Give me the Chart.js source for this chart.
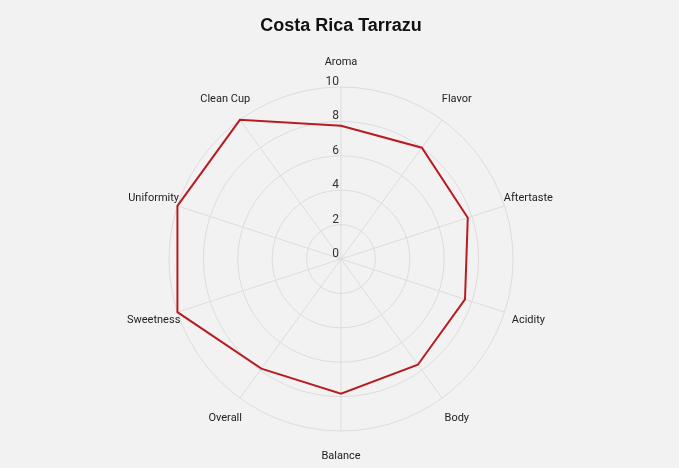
<!DOCTYPE html>
<html>
<head>
<meta charset="utf-8">
<script src="https://cdn.jsdelivr.net/npm/chart.js@4/dist/chart.umd.min.js"></script>
<style>
  html, body { margin: 0; padding: 0; background: #f2f2f2; }
  #wrap { width: 679px; height: 468px; position: relative; }
</style>
</head>
<body>
<div id="wrap"><canvas id="radar"></canvas></div>
<script>
// --- data ---
const categories = ['Aroma', 'Flavor', 'Aftertaste', 'Acidity', 'Body', 'Balance', 'Overall', 'Sweetness', 'Uniformity', 'Clean Cup'];
const scores = [7.75, 8, 7.75, 7.58, 7.6, 7.83, 7.88, 10, 10, 10];
const tickValues = [0, 2, 4, 6, 8, 10];

const LABEL_FONT = '11px Roboto, "Noto Sans", sans-serif';
const TICK_FONT = '12px Roboto, "Noto Sans", sans-serif';

// labels centred on a circle just outside the outer ring, and tick numbers sitting above the rings
const radarLabels = {
    id: 'radarLabels',
    afterDraw(chart) {
        const scale = chart.scales.r;
        const ctx = chart.ctx;
        ctx.save();
        ctx.font = LABEL_FONT;
        ctx.fillStyle = '#222';
        ctx.textAlign = 'center';
        ctx.textBaseline = 'middle';
        categories.forEach((name, i) => {
            const p = scale.getPointPosition(i, scale.drawingArea + 25);
            ctx.fillText(name, p.x, p.y);
        });
        ctx.font = TICK_FONT;
        ctx.textAlign = 'right';
        ctx.textBaseline = 'bottom';
        ctx.fillStyle = '#333';
        tickValues.forEach(v => {
            const d = scale.getDistanceFromCenterForValue(v);
            ctx.fillText(String(v), scale.xCenter - 2, scale.yCenter - d + 1);
        });
        ctx.restore();
    }
};

new Chart(document.getElementById('radar'), {
    type: 'radar',
    data: {
        labels: categories,
        datasets: [{
            label: 'Costa Rica Tarrazu',
            data: scores,
            borderColor: '#b81c22',
            backgroundColor: 'rgba(0,0,0,0)',
            borderWidth: 2,
            fill: false,
            pointRadius: 0,
            tension: 0
        }]
    },
    options: {
        responsive: true,
        maintainAspectRatio: false,
        animation: false,
        layout: { padding: { top: 3, bottom: 36, left: 3, right: 0 } },
        plugins: {
            legend: { display: false },
            tooltip: { enabled: false },
            title: {
                display: true,
                text: 'Costa Rica Tarrazu',
                color: '#111',
                font: { family: '"Liberation Sans", Arial, sans-serif', size: 18, weight: 'bold' },
                padding: { top: 12, bottom: 51 }
            }
        },
        scales: {
            r: {
                min: 0,
                max: 10,
                ticks: { stepSize: 2, display: false },
                pointLabels: { display: false },
                grid: { circular: true, color: '#dcdcdc', lineWidth: 1 },
                angleLines: { color: '#dcdcdc', lineWidth: 1 }
            }
        }
    },
    plugins: [radarLabels]
});
</script>
</body>
</html>
